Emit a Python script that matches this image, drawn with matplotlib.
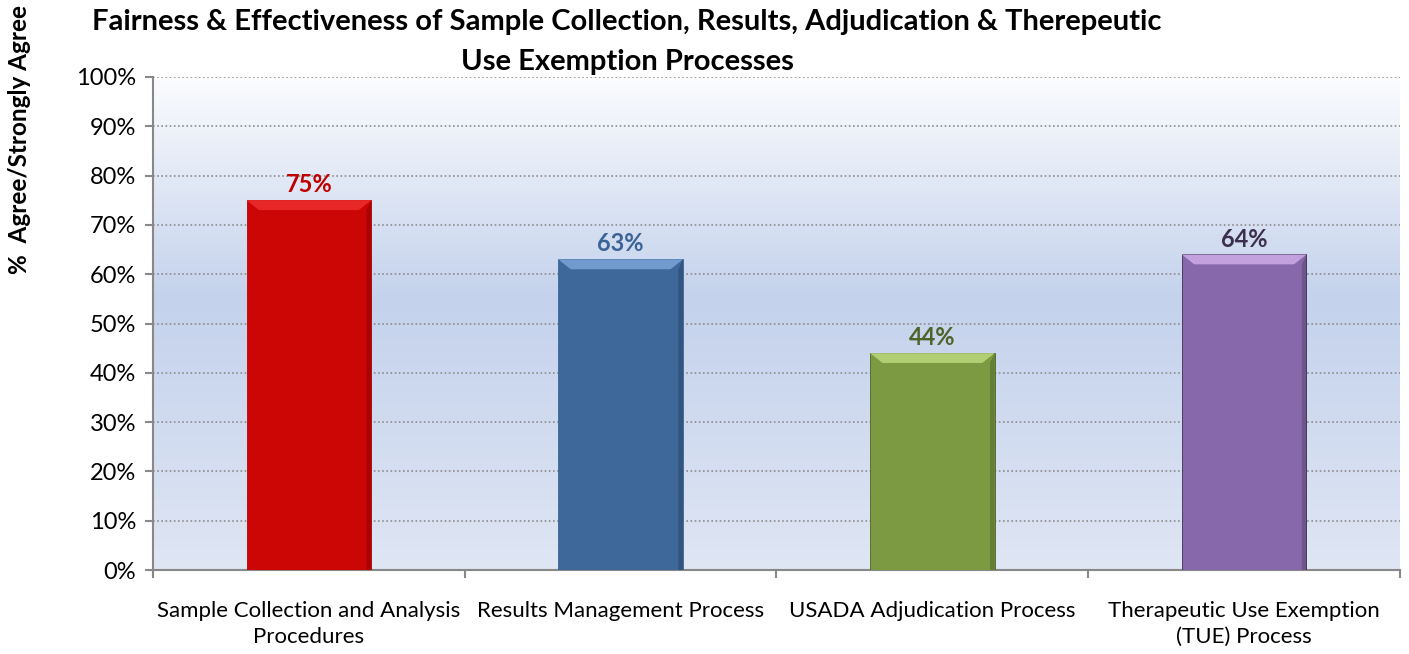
import matplotlib.pyplot as plt
import numpy as np
from matplotlib.colors import LinearSegmentedColormap

plt.rcParams['font.family'] = ['Lato', 'DejaVu Sans']

categories = ['Sample Collection and Analysis\nProcedures', 'Results Management Process',
              'USADA Adjudication Process', 'Therapeutic Use Exemption\n(TUE) Process']
values = [75, 63, 44, 64]
bar_colors = ['#cc0505', '#3e6899', '#7c9a42', '#8769ab']
top_colors = ['#f03030', '#7fa8dc', '#c0dc80', '#d2b0ec']
label_colors = ['#c00000', '#3b6496', '#4f6228', '#3d2e4f']
yticks = [0, 10, 20, 30, 40, 50, 60, 70, 80, 90, 100]
title_lines = ['Fairness & Effectiveness of Sample Collection, Results, Adjudication & Therepeutic',
               'Use Exemption Processes']

fig = plt.figure(figsize=(14.09, 6.54), dpi=100)
ax = fig.add_axes([0.1086, 0.1284, 0.885, 0.7539])

# gradient background
grad = LinearSegmentedColormap.from_list('bg', [(0, '#dfe6f4'), (0.55, '#c4d2ec'), (1.0, '#fbfcfe')])
ax.imshow(np.linspace(0, 1, 256).reshape(-1, 1), cmap=grad, aspect='auto',
          extent=[-0.5, 3.5, 0, 100], origin='lower', zorder=0)

x = np.arange(len(values))
ax.bar(x, values, width=0.4, color=bar_colors, edgecolor=label_colors, linewidth=0.6, zorder=3)
# bevel highlight on top
for i, v in enumerate(values):
    ax.fill([i - 0.2, i + 0.2, i + 0.16, i - 0.16], [v, v, v - 2, v - 2], color=top_colors[i], alpha=0.8, zorder=4, lw=0)
    ax.fill([i + 0.2, i + 0.2, i + 0.185, i + 0.185], [0, v, v - 2, 0], color='black', alpha=0.18, zorder=4, lw=0)
    ax.text(i, v + 0.8, f'{v}%', ha='center', va='bottom', fontsize=17, fontweight='bold',
            color=label_colors[i], zorder=5)

ax.set_xlim(-0.5, 3.5)
ax.set_ylim(0, 100)
ax.set_yticks(yticks)
ax.set_yticklabels([f'{t}%' for t in yticks], fontsize=17)
ax.yaxis.grid(True, linestyle=(0, (1, 1.5)), color='#8c8c8c', linewidth=1.2, zorder=1)
ax.set_axisbelow(True)

ax.set_xticks(np.arange(-0.5, 4, 1))
ax.set_xticklabels([])
ax.set_xticks(x, minor=True)
ax.set_xticklabels(categories, minor=True, fontsize=16, linespacing=1.4)
ax.tick_params(axis='x', which='minor', length=0, pad=22)
ax.tick_params(axis='x', which='major', length=6, color='#888888', width=1.5)
ax.tick_params(axis='y', length=6, color='#888888', width=1.5, pad=6)

for s in ['top', 'right']:
    ax.spines[s].set_visible(False)
for s in ['left', 'bottom']:
    ax.spines[s].set_color('#888888')
    ax.spines[s].set_linewidth(1.5)

fig.text(0.445, 0.966, title_lines[0], ha='center', va='center', fontsize=21, fontweight='bold')
fig.text(0.445, 0.905, title_lines[1], ha='center', va='center', fontsize=21, fontweight='bold')
fig.text(0.014, 0.786, '%  Agree/Strongly Agree', rotation=90, ha='center', va='center',
         fontsize=17.5, fontweight='bold')

fig.savefig('out.png', dpi=100)
